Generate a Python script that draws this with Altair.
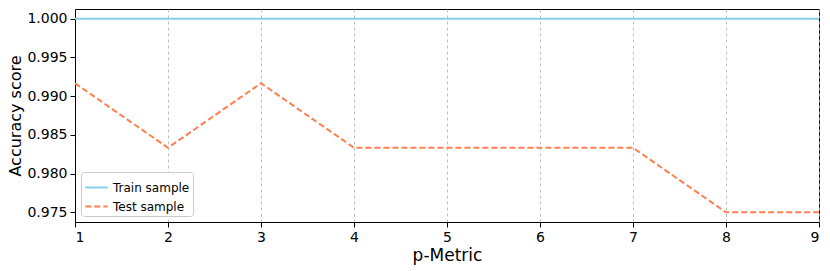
import altair as alt
import pandas as pd

p_metric = [1, 2, 3, 4, 5, 6, 7, 8, 9]
train_scores = [1.0, 1.0, 1.0, 1.0, 1.0, 1.0, 1.0, 1.0, 1.0]
test_scores = [0.991667, 0.983333, 0.991667, 0.983333, 0.983333, 0.983333, 0.983333, 0.975, 0.975]
series_names = ["Train sample", "Test sample"]
y_ticks = [0.975, 0.980, 0.985, 0.990, 0.995, 1.000]

rows = []
for p, v in zip(p_metric, train_scores):
    rows.append({"p": p, "score": v, "series": series_names[0]})
for p, v in zip(p_metric, test_scores):
    rows.append({"p": p, "score": v, "series": series_names[1]})
df = pd.DataFrame(rows)

chart = alt.Chart(df).mark_line(strokeWidth=2, clip=True).encode(
    x=alt.X("p:Q", scale=alt.Scale(domain=[1, 9], nice=False, zero=False),
            axis=alt.Axis(title="p-Metric", values=p_metric, format="d", grid=True,
                          gridDash=[3, 3], gridColor="#b0b0b0", gridWidth=0.8)),
    y=alt.Y("score:Q", scale=alt.Scale(domain=[0.97375, 1.00125], nice=False, zero=False),
            axis=alt.Axis(title="Accuracy score", values=y_ticks, format=".3f", grid=False)),
    color=alt.Color("series:N", scale=alt.Scale(domain=series_names, range=["#87CEEB", "#FF7F50"]),
                    legend=alt.Legend(title=None, orient="bottom-left", symbolType="stroke",
                                      symbolStrokeWidth=2, symbolSize=500, labelFontSize=12,
                                      labelFont="DejaVu Sans", fillColor="white",
                                      strokeColor="#cccccc", padding=3, cornerRadius=3,
                                      offset=6, rowPadding=0)),
    strokeDash=alt.StrokeDash("series:N", scale=alt.Scale(domain=series_names, range=[[1, 0], [6, 3]]),
                              legend=alt.Legend(title=None, orient="bottom-left")),
).properties(
    width=744, height=213,
    autosize=alt.AutoSizeParams(type="none"),
    padding={"left": 67, "top": 1, "right": 3, "bottom": 49},
).configure_axis(
    labelFont="DejaVu Sans", titleFont="DejaVu Sans", labelFontSize=14, titleFontSize=17,
    titleFontWeight="normal", labelColor="black", titleColor="black",
    domainColor="black", tickColor="black", tickSize=5, labelPadding=3,
).configure_axisX(titlePadding=3).configure_axisY(titlePadding=3, titleFontSize=16).configure_view(
    stroke="black", strokeWidth=1
)

chart.save("out.html", embed_options={"renderer": "svg", "actions": False})
